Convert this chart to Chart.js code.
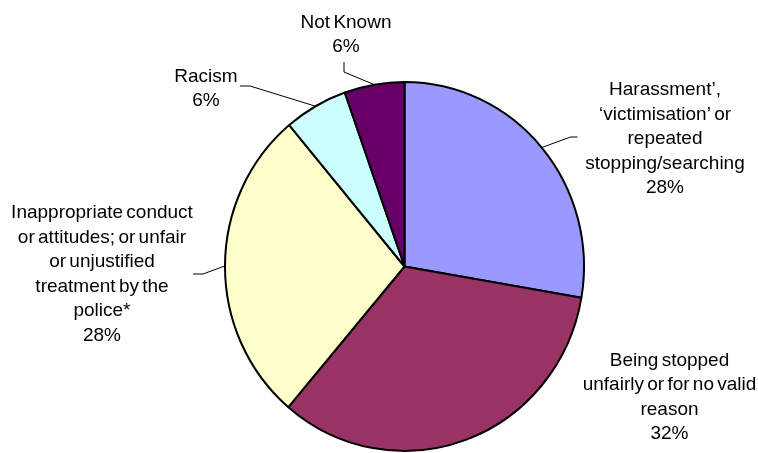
<!DOCTYPE html>
<html>
<head>
<meta charset="utf-8">
<script src="https://cdn.jsdelivr.net/npm/chart.js@4/dist/chart.umd.min.js"></script>
<style>
  html, body { margin: 0; padding: 0; background: #ffffff; }
  #wrap { width: 758px; height: 453px; position: relative; }
</style>
</head>
<body>
<div id="wrap"><canvas id="c" width="758" height="453"></canvas></div>
<script>
// ---- data ----
const categories = [
  ["Harassment\u2019,", "\u2018victimisation\u2019 or", "repeated", "stopping/searching"],
  ["Being stopped", "unfairly or for no valid", "reason"],
  ["Inappropriate conduct", "or attitudes; or unfair", "or unjustified", "treatment by the", "police*"],
  ["Racism"],
  ["Not Known"]
];
const shares = [27.7, 33.5, 27.7, 5.7, 5.4];
const percentLabels = ["28%", "32%", "28%", "6%", "6%"];
const sliceColors = ["#9999FF", "#993366", "#FFFFCC", "#CCFFFF", "#660066"];

// ---- layout (relative to pie centre) ----
const labelLayout = [
  { center: [260.5, -127.5], knee: [166, -129.5], end: [173, -129.5] },
  { center: [265, 131], knee: null, end: null },
  { center: [-302.5, 8], knee: [-201.5, 7.5], end: [-211.5, 7.5] },
  { center: [-198.5, -177.5], knee: [-154.5, -180.5], end: [-164.5, -180.5] },
  { center: [-58.5, -231.5], knee: [-60.5, -194.5], end: [-60.5, -204.5] }
];
const yScale = 184.5 / 179.5;
const FONT = '19px "Liberation Sans", Arial, sans-serif';
const LINE_H = 24.5;

const ellipsePlugin = {
  id: 'ellipse',
  beforeDatasetsDraw(chart) {
    const arc = chart.getDatasetMeta(0).data[0];
    const ctx = chart.ctx;
    ctx.save();
    ctx.translate(arc.x, arc.y);
    ctx.scale(1, yScale);
    ctx.translate(-arc.x, -arc.y);
  },
  afterDatasetsDraw(chart) {
    chart.ctx.restore();
  }
};

const labelPlugin = {
  id: 'pieLabels',
  afterDraw(chart) {
    const ctx = chart.ctx;
    const meta = chart.getDatasetMeta(0);
    ctx.save();
    ctx.font = FONT;
    if ('wordSpacing' in ctx) ctx.wordSpacing = '-2px';
    ctx.fillStyle = '#000000';
    ctx.textAlign = 'center';
    ctx.textBaseline = 'middle';
    ctx.strokeStyle = '#000000';
    ctx.lineWidth = 1;
    meta.data.forEach((arc, i) => {
      const cx = arc.x, cy = arc.y, r = arc.outerRadius;
      const mid = (arc.startAngle + arc.endAngle) / 2;
      const ex = cx + r * Math.cos(mid);
      const ey = cy + r * Math.sin(mid) * yScale;
      const lay = labelLayout[i];
      if (lay.knee) {
        ctx.beginPath();
        ctx.moveTo(ex, ey);
        ctx.lineTo(cx + lay.knee[0], cy + lay.knee[1]);
        ctx.lineTo(cx + lay.end[0], cy + lay.end[1]);
        ctx.stroke();
      }
      const lines = categories[i].concat([percentLabels[i]]);
      const top = cy + lay.center[1] - (lines.length - 1) * LINE_H / 2;
      lines.forEach((t, k) => {
        ctx.fillText(t, cx + lay.center[0], top + k * LINE_H);
      });
    });
    ctx.restore();
  }
};

new Chart(document.getElementById('c'), {
  type: 'pie',
  data: {
    labels: categories.map(c => c.join(' ')),
    datasets: [{
      data: shares,
      backgroundColor: sliceColors,
      borderColor: '#000000',
      borderWidth: 2,
      borderAlign: 'center'
    }]
  },
  options: {
    responsive: false,
    animation: false,
    radius: 179.5,
    layout: { padding: { left: 230, right: 179, top: 92, bottom: 12 } },
    plugins: {
      legend: { display: false },
      tooltip: { enabled: false },
      title: { display: false }
    }
  },
  plugins: [ellipsePlugin, labelPlugin]
});
</script>
</body>
</html>
